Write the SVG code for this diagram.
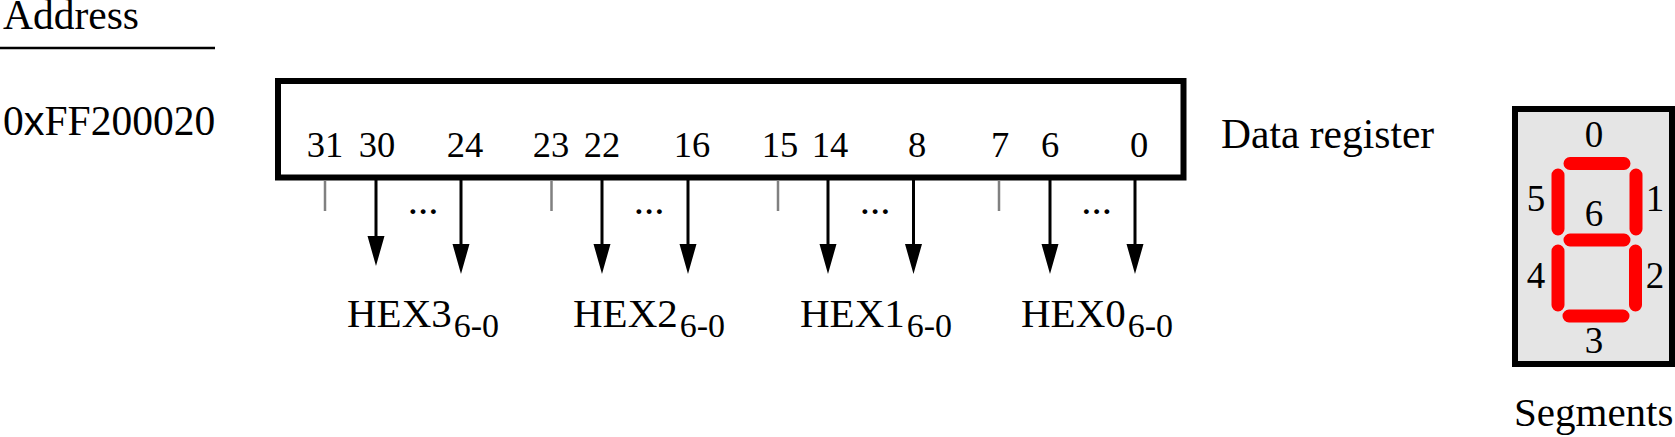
<svg xmlns="http://www.w3.org/2000/svg" width="1675" height="437" viewBox="0 0 1675 437">
<style>
text{font-family:"Liberation Serif","Times New Roman",serif;font-size:41.500px;fill:#000}
.b{font-size:36.500px;text-anchor:middle}
.s{font-size:34px}
.h{font-size:41px}
.d{font-size:37px;text-anchor:middle}
.dots{font-size:41px;text-anchor:middle}
.tick{stroke:#808080;stroke-width:2.500;fill:none}
.wire{stroke:#000;stroke-width:3;fill:none}
.seg{stroke:#f00;stroke-width:13;stroke-linecap:round;fill:none}
</style>
<g id="address"><text x="3" y="29">Address</text><path d="M0 48H215" stroke="#000" stroke-width="2.500"/><text x="3" y="135">0<tspan style="font-family:'Liberation Sans',Arial,sans-serif">x</tspan>FF200020</text></g>
<g id="register"><rect x="278" y="81" width="905.500" height="96.500" fill="#fff" stroke="#000" stroke-width="6"/>
<text class="b" x="325" y="157">31</text><text class="b" x="377" y="157">30</text><text class="b" x="465" y="157">24</text><text class="b" x="551" y="157">23</text><text class="b" x="602" y="157">22</text><text class="b" x="692" y="157">16</text><text class="b" x="780" y="157">15</text><text class="b" x="830" y="157">14</text><text class="b" x="917" y="157">8</text><text class="b" x="1000" y="157">7</text><text class="b" x="1050" y="157">6</text><text class="b" x="1139" y="157">0</text>
<text x="1221" y="148">Data register</text></g>
<g id="connectors">
<path class="tick" d="M325 181V211M551.500 181V211M778 181V211M999 181V211"/>
<path class="wire" d="M376 180V240M461 180V248M602 180V248M688 180V248M828 180V248M913.500 180V248M1050 180V248M1135 180V248"/>
<path d="M367.500 236H384.500L376 266zM452.500 244H469.500L461 274zM593.500 244H610.500L602 274zM679.500 244H696.500L688 274zM819.500 244H836.500L828 274zM905 244H922L913.500 274zM1041.500 244H1058.500L1050 274zM1126.500 244H1143.500L1135 274z" fill="#000"/>
</g>
<g id="labels"><text class="h" x="347" y="327">HEX3<tspan class="s" dx="2" dy="10">6-0</tspan></text><text class="h" x="573" y="327">HEX2<tspan class="s" dx="2" dy="10">6-0</tspan></text><text class="h" x="800" y="327">HEX1<tspan class="s" dx="2" dy="10">6-0</tspan></text><text class="h" x="1021" y="327">HEX0<tspan class="s" dx="2" dy="10">6-0</tspan></text>
<text class="dots" x="423" y="214">...</text><text class="dots" x="649" y="214">...</text><text class="dots" x="875" y="214">...</text><text class="dots" x="1096.500" y="214">...</text></g>
<g id="display"><rect x="1515" y="109" width="157" height="255" fill="#e5e5e5" stroke="#000" stroke-width="6"/>
<path class="seg" d="M1570 163.500H1624M1636 175V229M1635.500 251V305M1569 316H1623M1558 251V305M1558 175V229M1570 240H1624"/>
<text class="d" x="1594" y="147">0</text><text class="d" x="1655" y="211">1</text><text class="d" x="1655" y="288">2</text><text class="d" x="1594" y="353">3</text><text class="d" x="1536" y="288">4</text><text class="d" x="1536" y="211">5</text><text class="d" x="1594" y="226">6</text>
<text x="1514" y="426" style="font-size:41px">Segments</text></g>
</svg>
